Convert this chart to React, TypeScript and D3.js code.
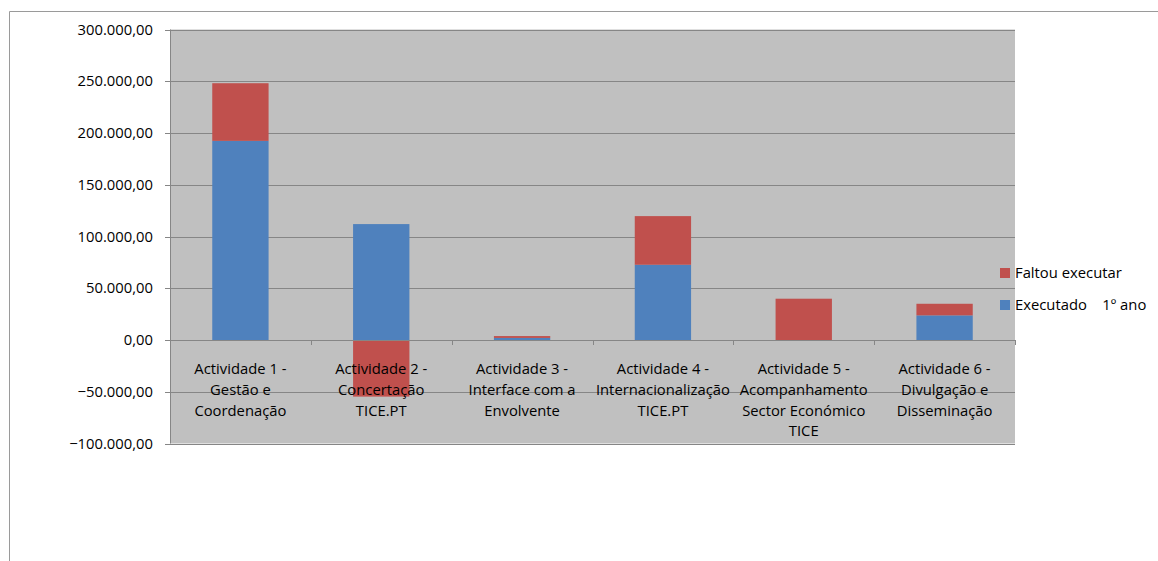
import React from "react";
import * as d3 from "d3";

const categories: string[][] = [
  ["Actividade 1 -", "Gestão e", "Coordenação"],
  ["Actividade 2 -", "Concertação", "TICE.PT"],
  ["Actividade 3 -", "Interface com a", "Envolvente"],
  ["Actividade 4 -", "Internacionalização", "TICE.PT"],
  ["Actividade 5 -", "Acompanhamento", "Sector Económico", "TICE"],
  ["Actividade 6 -", "Divulgação e", "Disseminação"],
];
const executado: number[] = [192400, 112000, 2000, 72700, 0, 23800];
const faltou: number[] = [55700, -54700, 1800, 47000, 39900, 11200];
const seriesNames: string[] = ["Executado    1º ano", "Faltou executar"];
const seriesColors: string[] = ["#4f81bd", "#c0504d"];
const yTicks: number[] = [-100000, -50000, 0, 50000, 100000, 150000, 200000, 250000, 300000];

const W = 1158;
const H = 561;
const plotL = 170;
const plotR = 1015;
const plotT = 29.5;
const plotB = 443.5;
const FONT = "'Open Sans', 'Noto Sans', sans-serif";
const FS = 14.8;

export default function App() {
  const idx = categories.map((_, i) => i);
  const x = d3.scaleBand<number>().domain(idx).range([plotL, plotR]).paddingInner(0).paddingOuter(0);
  const y = d3.scaleLinear().domain([-100000, 300000]).range([plotB, plotT]);
  const locale = d3.formatLocale({ decimal: ",", thousands: ".", grouping: [3], currency: ["", "€"] });
  const fmt = locale.format(",.2f");

  const rows = idx.map((i) => ({ executado: executado[i], faltou: faltou[i] }));
  const stack = d3.stack<any>().keys(["executado", "faltou"]).offset(d3.stackOffsetDiverging);
  const layers = stack(rows);
  const bw = x.bandwidth() * 0.4;

  return (
    <svg width={W} height={H} style={{ position: "absolute", left: 0, top: 0, display: "block" }} fontFamily={FONT}>
      <rect x={0} y={0} width={W} height={H} fill="#fff" />
      {/* outer frame */}
      <line x1={9.5} x2={W} y1={11.5} y2={11.5} stroke="#9a9a9a" strokeWidth={1} />
      <line x1={9.5} x2={9.5} y1={11.5} y2={H} stroke="#9a9a9a" strokeWidth={1} />
      {/* plot area */}
      <rect x={plotL} y={plotT} width={plotR - plotL} height={plotB - plotT} fill="#c0c0c0" />
      {yTicks.map((t) => (
        <g key={t}>
          <line x1={plotL - 5} x2={plotR} y1={Math.round(y(t)) + 0.5} y2={Math.round(y(t)) + 0.5} stroke="#868686" strokeWidth={1} />
          <text x={153} y={y(t)} dy="0.35em" textAnchor="end" fontSize={FS} fill="#000">
            {fmt(t)}
          </text>
        </g>
      ))}
      {/* left axis */}
      <line x1={plotL + 0.5} x2={plotL + 0.5} y1={plotT} y2={plotB} stroke="#868686" strokeWidth={1} />
      {/* bars */}
      {layers.map((layer, li) =>
        layer.map((d, i) => {
          const y0 = y(d[0]);
          const y1 = y(d[1]);
          if (Math.abs(y1 - y0) < 0.01) return null;
          return (
            <rect
              key={li + "-" + i}
              x={(x(i) as number) + (x.bandwidth() - bw) / 2}
              y={Math.min(y0, y1)}
              width={bw}
              height={Math.abs(y1 - y0)}
              fill={seriesColors[li]}
            />
          );
        })
      )}
      {/* category axis at zero */}
      <line x1={plotL} x2={plotR + 1} y1={Math.round(y(0)) + 0.5} y2={Math.round(y(0)) + 0.5} stroke="#868686" strokeWidth={1} />
      {idx.concat([idx.length]).map((i) => {
        const xx = Math.round(i < idx.length ? (x(i) as number) : plotR) + 0.5;
        return <line key={"t" + i} x1={xx} x2={xx} y1={y(0)} y2={y(0) + 5} stroke="#868686" strokeWidth={1} />;
      })}
      {categories.map((lines, i) => (
        <text key={"c" + i} textAnchor="middle" fontSize={FS} fill="#000">
          {lines.map((ln, k) => (
            <tspan key={k} x={(x(i) as number) + x.bandwidth() / 2} y={369 + k * 20.7} dy="0.35em">
              {ln}
            </tspan>
          ))}
        </text>
      ))}
      {/* legend */}
      {[1, 0].map((s, k) => (
        <g key={"l" + s}>
          <rect x={1000} y={268 + k * 32} width={10} height={10} fill={seriesColors[s]} />
          <text x={1015} y={273 + k * 32} dy="0.35em" fontSize={FS} fill="#000" style={{ whiteSpace: "pre" }}>
            {seriesNames[s]}
          </text>
        </g>
      ))}
    </svg>
  );
}
